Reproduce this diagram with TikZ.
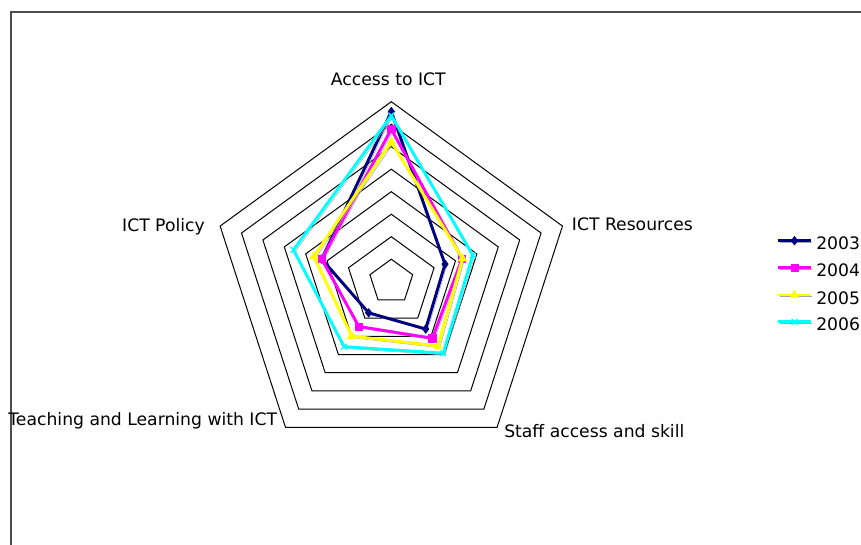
\documentclass[tikz,border=0pt]{standalone}
\usepackage{fontspec}
\setmainfont{DejaVu Sans}
\usepackage{xcolor}
\usetikzlibrary{plotmarks}
\definecolor{ser03}{RGB}{0,0,128}
\definecolor{ser04}{RGB}{255,0,255}
\definecolor{ser05}{RGB}{255,255,0}
\definecolor{ser06}{RGB}{0,255,255}
\tikzset{lbl/.style={inner sep=0pt,font=\fontsize{12.9}{15}\selectfont},
  ring/.style={draw=black,line width=0.75pt,line join=miter},
  frame/.style={draw=black!70,line width=1.2pt},
  series/.style={line width=2.2pt,line join=round,
    preaction={draw=black!35,transform canvas={shift={(1.3pt,-1.3pt)}}}},
  s03/.style={series,draw=ser03,mark=diamond*,mark size=3.2pt,mark options={fill=ser03,line width=0.5pt}},
  s04/.style={series,draw=ser04,mark=square*,mark size=2.7pt,mark options={fill=ser04,line width=0.5pt}},
  s05/.style={series,draw=ser05,mark=triangle*,mark size=3.6pt,mark options={fill=ser05,line width=0.5pt}},
  s06/.style={series,draw=ser06,mark=x,mark size=3pt,mark options={line width=1pt}}}

\begin{document}
\begin{tikzpicture}[x=0.75pt,y=0.75pt]
    \useasboundingbox (-391.3,-263.3) rectangle (469.7,281.7);
    \draw[frame] (-380.3,-263.3) -- (-380.3,269.7) -- (469.7,269.7);

    \begin{scope}[x=16.875pt,y=16.875pt]
    \foreach \r in {1,...,8}
        \draw[ring] (90:\r) -- (18:\r) -- (-54:\r) -- (-126:\r) -- (162:\r) -- cycle;

    \draw[s03] plot coordinates {(90:7.56) (18:2.51) (-54:2.60) (-126:1.71) (162:3.25)} -- cycle;
    \draw[s04] plot coordinates {(90:6.78) (18:3.31) (-54:3.11) (-126:2.46) (162:3.25)} -- cycle;
    \draw[s05] plot coordinates {(90:6.22) (18:3.33) (-54:3.53) (-126:2.99) (162:3.62)} -- cycle;
    \draw[s06] plot coordinates {(90:7.38) (18:3.81) (-54:3.93) (-126:3.57) (162:4.57)} -- cycle;
    \end{scope}

    \node[lbl,anchor=base] (access) at (-3,195.7) {Access to ICT};
    \node[lbl,anchor=base west] (resources) at (180.4,51) {ICT Resources};
    \node[lbl,anchor=base west] (staff) at (112.7,-155.6) {Staff access and skill};
    \node[lbl,anchor=base east] (teaching) at (-114,-144) {Teaching and Learning with ICT};
    \node[lbl,anchor=base east] (policy) at (-186.3,50) {ICT Policy};

    % legend
    \foreach \yr/\sty/\yy in {2003/s03/41,2004/s04/14,2005/s05/-13.3,2006/s06/-40} {
        \coordinate (k\yr) at (387,\yy);
        \coordinate (e\yr) at (419.4,\yy);
        \draw[\sty] (k\yr) -- (e\yr);
        \draw[\sty,preaction={}] plot coordinates {(403.2,\yy)};
        \node[lbl,anchor=west] (t\yr) at (424.7,\yy-3) {\yr};
    }
\end{tikzpicture}
\end{document}
